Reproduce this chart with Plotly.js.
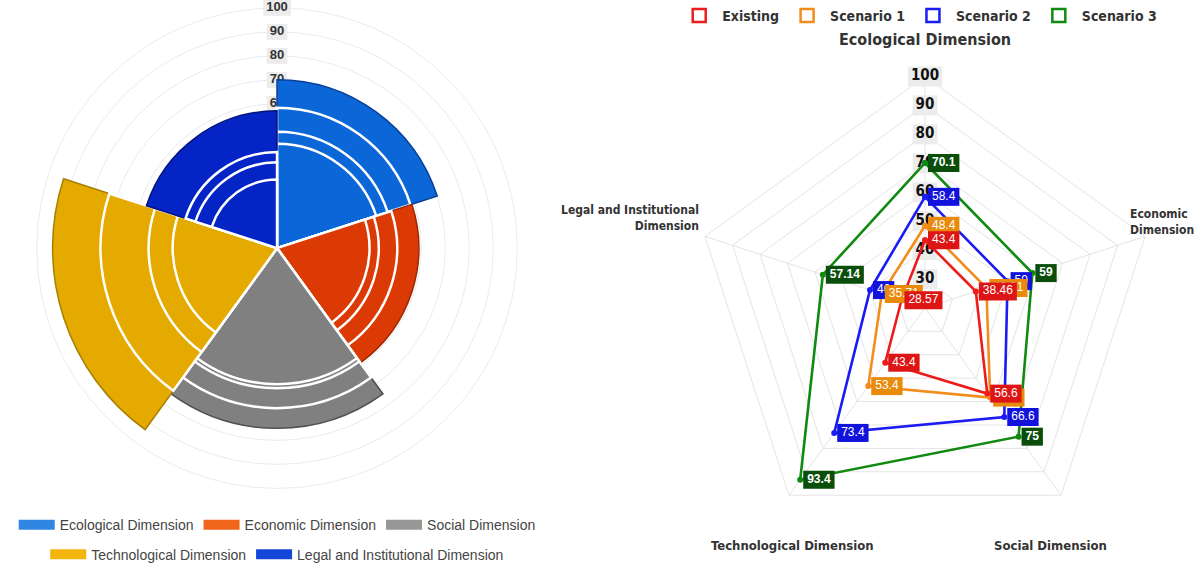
<!DOCTYPE html>
<html>
<head>
<meta charset="utf-8">
<script src="https://cdn.plot.ly/plotly-3.0.1.min.js"></script>
<style>
  html, body { margin: 0; padding: 0; background: #ffffff; }
  #chart { width: 1200px; height: 571px; }
</style>
</head>
<body>
<div id="chart"></div>
<script>
// ---------------- data ----------------
const categories = ['Ecological Dimension', 'Economic Dimension', 'Social Dimension',
                    'Technological Dimension', 'Legal and Institutional Dimension'];
const seriesNames = ['Existing', 'Scenario 1', 'Scenario 2', 'Scenario 3'];
const existing  = [43.4, 38.46, 56.6, 43.4, 28.57];
const scenario1 = [48.4, 42.31, 58.3, 53.4, 35.71];
const scenario2 = [58.4, 50,    66.6, 73.4, 40];
const scenario3 = [70.1, 59,    75,   93.4, 57.14];
const areaTicks  = [60, 70, 80, 90, 100];
const radarTicks = [30, 40, 50, 60, 70, 80, 90, 100];
const radarAxisLabels = ['Ecological Dimension', 'Economic<br>Dimension', 'Social Dimension',
                         'Technological Dimension', 'Legal and Institutional<br>Dimension'];

// ---------------- styles ----------------
const FONT   = '"Liberation Sans", Arial, sans-serif';
const FONT_N = '"Liberation Sans Narrow", "DejaVu Sans Condensed", "Arial Narrow", sans-serif';
const sectorColors = ['#0b67d8', '#dc3a04', '#808080', '#e4aa00', '#0424c6'];
const sectorEdges  = ['#0a3f96', '#9a2800', '#505050', '#a77f00', '#01147a'];
const legendColors = ['#2f86e3', '#f0651a', '#979797', '#f4b50f', '#1446d8'];
const lineColors   = ['#ee1b1b', '#f28c1a', '#1b1bf5', '#118a11'];
const boxColors    = ['#dd1515', '#e88a0c', '#1212dd', '#0b4e0b'];

const allSeries = [existing, scenario1, scenario2, scenario3];

const ctx = document.createElement('canvas').getContext('2d');
function textW(str, font) { ctx.font = font; return ctx.measureText(str).width; }

const traces = [];

// ---- legend-only entries, placed at the centre of the bottom (grid) layer, hidden by sectors ----
[0, 1, 2, 3].forEach(k => {
  traces.push({
    type: 'scatterpolar', subplot: 'polar', mode: 'markers', name: seriesNames[k],
    r: [0], theta: [90],
    marker: { symbol: 'square-open', size: 13, color: lineColors[k], opacity: 1,
              line: { color: lineColors[k], width: 2.5 } },
    legend: 'legend', legendrank: k + 1, showlegend: true, hoverinfo: 'skip'
  });
});
categories.forEach((cat, i) => {
  traces.push({
    type: 'scatterpolar', subplot: 'polar', mode: 'lines', name: cat,
    r: [0], theta: [90],
    line: { color: legendColors[i], width: 10 },
    legend: i < 3 ? 'legend2' : 'legend3', showlegend: true, hoverinfo: 'skip'
  });
});

// ---- left polar-area chart: tick labels (bottom layer, linear angular axis) ----
{
  const w = areaTicks.map(v => textW(String(v), 'bold 13px ' + FONT) + 6);
  traces.push({
    type: 'scatterpolar', subplot: 'polar', mode: 'markers+text',
    r: areaTicks, theta: areaTicks.map(() => 90),
    text: areaTicks.map(String), textposition: 'middle center',
    textfont: { family: FONT, size: 13, color: '#333', weight: 'bold' },
    marker: { symbol: 'line-ew', size: w.map(x => x / 1.4), color: '#ececec', opacity: 1,
              line: { color: '#ececec', width: 16 } },
    showlegend: false, hoverinfo: 'skip', cliponaxis: false
  });
}

// ---- left polar-area chart: sectors (one trace per dimension, 4 overlaid bars) ----
categories.forEach((cat, i) => {
  const rs = [scenario3[i], scenario2[i], scenario1[i], existing[i]];
  traces.push({
    type: 'barpolar', subplot: 'polar2', name: cat,
    r: rs, theta: rs.map(() => cat),
    marker: { color: sectorColors[i],
              line: { color: [sectorEdges[i], '#ffffff', '#ffffff', '#ffffff'],
                      width: [1.5, 2.5, 2.5, 2.5] } },
    showlegend: false, hoverinfo: 'r+theta'
  });
});

// ---- radar: radial tick labels ----
{
  const w = radarTicks.map(v => textW(String(v), 'bold 15px ' + FONT_N) + 6);
  traces.push({
    type: 'scatterpolar', subplot: 'polar3', mode: 'markers+text',
    r: radarTicks, theta: radarTicks.map(() => categories[0]),
    text: radarTicks.map(String), textposition: 'middle center',
    textfont: { family: FONT_N, size: 15, color: '#111', weight: 'bold' },
    marker: { symbol: 'line-ew', size: w.map(x => x / 1.4), color: '#ececec', opacity: 1,
              line: { color: '#ececec', width: 20 } },
    showlegend: false, hoverinfo: 'skip', cliponaxis: false
  });
}

// ---- radar: series lines (drawn Scenario 3 first, Existing on top) ----
[3, 2, 1, 0].forEach(k => {
  const v = allSeries[k];
  traces.push({
    type: 'scatterpolar', subplot: 'polar3', mode: 'lines+markers', name: seriesNames[k],
    r: v.concat([v[0]]), theta: categories.concat([categories[0]]),
    line: { color: lineColors[k], width: 2.6 },
    marker: { color: lineColors[k], size: 6 },
    showlegend: false, cliponaxis: false
  });
});

// ---- radar: value boxes + labels ----
[3, 2, 1, 0].forEach(k => {
  const v = allSeries[k];
  const bold = k === 3;
  const labels = v.map(String);
  const L = labels.map(s => textW(s, (bold ? 'bold ' : '') + '12px ' + FONT) + 8);
  traces.push({
    type: 'scatterpolar', subplot: 'polar3', mode: 'markers',
    r: v, theta: categories,
    marker: { symbol: 'line-ns', size: L.map(x => x / 1.4), angle: -90, opacity: 1,
              standoff: L.map(x => 3 + x / 2), color: boxColors[k],
              line: { color: boxColors[k], width: 18 } },
    showlegend: false, hoverinfo: 'skip', cliponaxis: false
  });
  traces.push({
    type: 'scatterpolar', subplot: 'polar3', mode: 'markers+text',
    r: v, theta: categories, text: labels, textposition: 'middle right',
    textfont: { family: FONT, size: 12, color: '#ffffff', weight: bold ? 'bold' : 'normal' },
    marker: { size: 9.6, color: 'rgba(0,0,0,0)' },
    showlegend: false, hoverinfo: 'skip', cliponaxis: false
  });
});

const hiddenAxis = { showgrid: false, showline: false, showticklabels: false, ticks: '' };

const layout = {
  width: 1200, height: 571,
  margin: { l: 0, r: 0, t: 0, b: 0 },
  paper_bgcolor: '#ffffff',
  showlegend: true,
  polar: {
    domain: { x: [0.0267, 0.435], y: [0.1278, 0.986] },
    bgcolor: '#ffffff',
    radialaxis: { range: [0, 100], tickvals: [10, 20, 30, 40, 50, 60, 70, 80, 90, 100],
                  showticklabels: false, ticks: '', showline: false,
                  gridcolor: '#ebebeb', gridwidth: 1, layer: 'below traces' },
    angularaxis: { type: 'linear', thetaunit: 'degrees', rotation: 0, direction: 'counterclockwise',
                   showgrid: false, showticklabels: false, ticks: '', showline: true,
                   linecolor: '#ebebeb', layer: 'below traces' }
  },
  polar2: {
    domain: { x: [0.0267, 0.435], y: [0.1278, 0.986] },
    bgcolor: 'rgba(0,0,0,0)', barmode: 'overlay', bargap: 0,
    radialaxis: Object.assign({ range: [0, 100] }, hiddenAxis),
    angularaxis: Object.assign({ type: 'category', categoryorder: 'array', categoryarray: categories,
                                 direction: 'clockwise', rotation: 54 }, hiddenAxis)
  },
  polar3: {
    domain: { x: [0.5742, 0.9675], y: [0.0368, 0.8634] },
    bgcolor: '#ffffff', gridshape: 'linear',
    radialaxis: { range: [20, 100], tickvals: radarTicks, angle: 90,
                  showticklabels: false, ticks: '', showline: false,
                  gridcolor: '#e4e4e4', gridwidth: 1, layer: 'below traces' },
    angularaxis: { type: 'category', categoryorder: 'array', categoryarray: categories,
                   direction: 'clockwise', rotation: 90,
                   showticklabels: false, ticks: '', showline: true,
                   linecolor: '#e4e4e4', gridcolor: '#e4e4e4', layer: 'below traces' }
  },
  legend: {
    orientation: 'h', x: 0.766, xanchor: 'center', y: 1.0, yanchor: 'top',
    font: { family: FONT_N, size: 14, color: '#333', weight: 'bold' },
    bgcolor: 'rgba(0,0,0,0)', itemwidth: 36, itemclick: false, itemdoubleclick: false
  },
  legend2: {
    orientation: 'h', x: 0.231, xanchor: 'center', y: 0.091, yanchor: 'top',
    font: { family: FONT, size: 14, color: '#444' },
    bgcolor: 'rgba(0,0,0,0)', itemwidth: 36, itemclick: false, itemdoubleclick: false
  },
  legend3: {
    orientation: 'h', x: 0.231, xanchor: 'center', y: 0.038, yanchor: 'top',
    font: { family: FONT, size: 14, color: '#444' },
    bgcolor: 'rgba(0,0,0,0)', itemwidth: 36, itemclick: false, itemdoubleclick: false
  },
  annotations: [
    { text: radarAxisLabels[0], xref: 'paper', yref: 'paper', x: 0.7708, y: 0.930,
      xanchor: 'center', yanchor: 'middle', showarrow: false,
      font: { family: FONT_N, size: 16, color: '#333', weight: 'bold' } },
    { text: radarAxisLabels[1], xref: 'paper', yref: 'paper', x: 0.997, y: 0.604,
      xanchor: 'right', yanchor: 'middle', align: 'left', showarrow: false,
      font: { family: FONT_N, size: 12, color: '#333', weight: 'bold' } },
    { text: radarAxisLabels[2], xref: 'paper', yref: 'paper', x: 0.875, y: 0.026,
      xanchor: 'center', yanchor: 'middle', showarrow: false,
      font: { family: FONT_N, size: 13, color: '#333', weight: 'bold' } },
    { text: radarAxisLabels[3], xref: 'paper', yref: 'paper', x: 0.660, y: 0.026,
      xanchor: 'center', yanchor: 'middle', showarrow: false,
      font: { family: FONT_N, size: 13, color: '#333', weight: 'bold' } },
    { text: radarAxisLabels[4], xref: 'paper', yref: 'paper', x: 0.584, y: 0.611,
      xanchor: 'right', yanchor: 'middle', align: 'right', showarrow: false,
      font: { family: FONT_N, size: 12, color: '#333', weight: 'bold' } }
  ]
};

Plotly.newPlot('chart', traces, layout, { displayModeBar: false });
</script>
</body>
</html>
